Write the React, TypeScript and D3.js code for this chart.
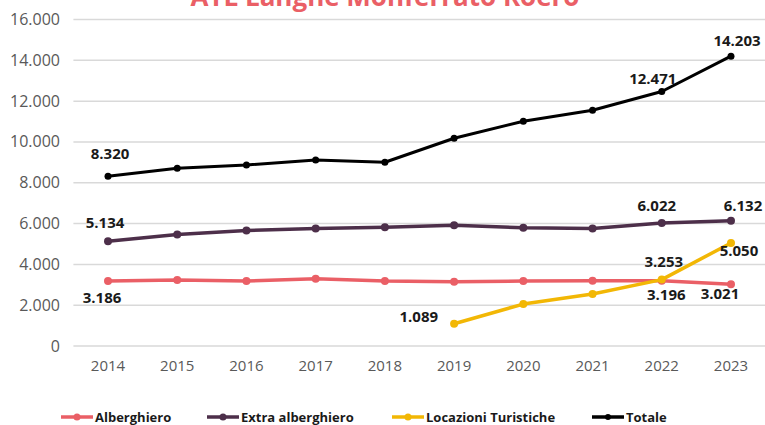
import React from "react";
import * as d3 from "d3";

const years = ["2014", "2015", "2016", "2017", "2018", "2019", "2020", "2021", "2022", "2023"];
const alberghiero = [3186, 3230, 3180, 3293, 3180, 3146, 3180, 3195, 3196, 3021];
const extraAlberghiero = [5134, 5465, 5660, 5758, 5823, 5920, 5790, 5760, 6022, 6132];
const locazioniTuristiche = [null, null, null, null, null, 1089, 2055, 2544, 3253, 5050];
const totale = [8320, 8715, 8870, 9115, 9005, 10180, 11015, 11555, 12471, 14203];
const yTicks = [0, 2000, 4000, 6000, 8000, 10000, 12000, 14000, 16000];
const seriesNames = ["Alberghiero", "Extra alberghiero", "Locazioni Turistiche", "Totale"];
const title = "ATL Langhe Monferrato Roero";

const W = 765, H = 425;
const colors = ["#EA5F66", "#4D2F4A", "#F2B705", "#000000"];
const seriesData = [alberghiero, extraAlberghiero, locazioniTuristiche, totale];

// label placement: [seriesIndex, pointIndex, dx, dy, anchor]
const labelSpecs: [number, number, number, number, string][] = [
  [3, 0, 2, -17, "middle"],
  [3, 8, -9, -8, "middle"],
  [3, 9, 6, -10, "middle"],
  [1, 0, -3, -13, "middle"],
  [1, 8, -5, -12, "middle"],
  [1, 9, 12, -10, "middle"],
  [0, 0, -6, 22, "middle"],
  [0, 8, 4.5, 19, "middle"],
  [0, 9, -11, 15, "middle"],
  [2, 5, -16, -2, "end"],
  [2, 8, 2, -13, "middle"],
  [2, 9, 8, 13, "middle"],
];

const fmt = (v: number) => d3.format(",")(v).replace(/,/g, ".");

export default function App() {
  const x = d3.scaleBand().domain(years).range([73.4, 765.6]);
  const y = d3.scaleLinear().domain([0, 16000]).range([346, 19.5]);
  const cx = (i: number) => (x(years[i]) as number) + x.bandwidth() / 2;

  const line = d3
    .line<number | null>()
    .defined((d) => d != null)
    .x((_, i) => cx(i))
    .y((d) => y(d as number));

  const legendX = [61, 207, 392, 592];

  return (
    <svg
      width={W}
      height={H}
      style={{ position: "absolute", left: 0, top: 0, background: "#fff" }}
      fontFamily="'Open Sans', sans-serif"
    >
      <text x={385} y={6} textAnchor="middle" fontSize={26} fontWeight={700} fill="#EA5F66">
        {title}
      </text>
      {yTicks.map((t) => (
        <g key={t}>
          <line x1={73.4} x2={765} y1={y(t)} y2={y(t)} stroke="#d9d9d9" strokeWidth={1.5} />
          <text x={60} y={y(t) + 5.5} textAnchor="end" fontSize={16} fill="#595959">
            {fmt(t)}
          </text>
        </g>
      ))}
      {years.map((yr, i) => (
        <text key={yr} x={cx(i)} y={371} textAnchor="middle" fontSize={15} fill="#595959">
          {yr}
        </text>
      ))}
      {seriesData.map((s, si) => (
        <g key={si}>
          <path
            d={line(s) || ""}
            fill="none"
            stroke={colors[si]}
            strokeWidth={si === 3 ? 3 : 3.5}
            strokeLinejoin="round"
          />
          {s.map((v, i) =>
            v == null ? null : (
              <circle key={i} cx={cx(i)} cy={y(v)} r={si === 3 ? 3.5 : 4} fill={colors[si]} />
            )
          )}
        </g>
      ))}
      {labelSpecs.map(([si, pi, dx, dy, anchor], k) => (
        <text
          key={k}
          x={cx(pi) + dx}
          y={y(seriesData[si][pi] as number) + dy}
          textAnchor={anchor}
          fontSize={15}
          fontWeight={700}
          fill="#1a1a1a"
        >
          {fmt(seriesData[si][pi] as number)}
        </text>
      ))}
      {seriesNames.map((n, i) => (
        <g key={n}>
          <line x1={legendX[i]} x2={legendX[i] + 32} y1={417} y2={417} stroke={colors[i]} strokeWidth={3.5} />
          <circle cx={legendX[i] + 16} cy={417} r={i === 3 ? 3 : 3.5} fill={colors[i]} />
          <text x={legendX[i] + 34} y={421.5} fontSize={13} fontWeight={700} fill="#1a1a1a">
            {n}
          </text>
        </g>
      ))}
    </svg>
  );
}
